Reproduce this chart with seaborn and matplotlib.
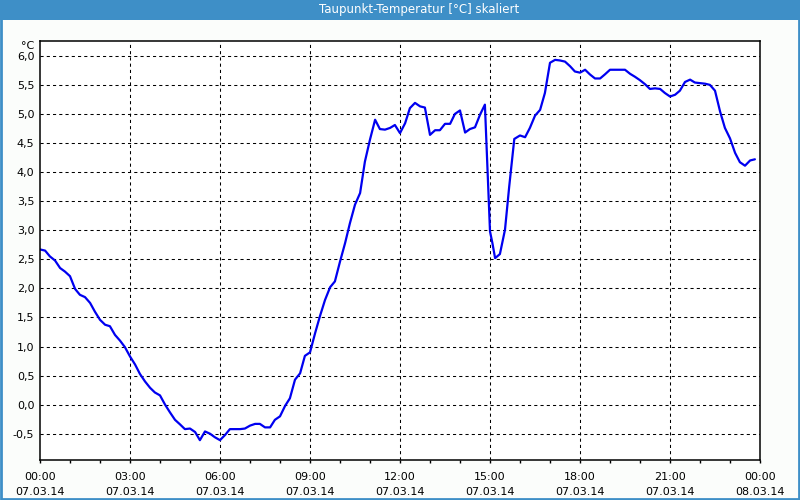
import matplotlib
matplotlib.use("Agg")
import matplotlib.pyplot as plt
from matplotlib.patches import Rectangle
import seaborn as sns
import pandas as pd

hours = [0.0, 0.17, 0.33, 0.5, 0.67, 0.83, 1.0, 1.17, 1.33, 1.5, 1.67, 1.83,
         2.0, 2.17, 2.33, 2.5, 2.67, 2.83, 3.0, 3.17, 3.33, 3.5, 3.67, 3.83,
         4.0, 4.17, 4.33, 4.5, 4.67, 4.83, 5.0, 5.17, 5.33, 5.5, 5.67, 5.83,
         6.0, 6.17, 6.33, 6.67, 6.83, 7.0, 7.17, 7.33, 7.5, 7.67, 7.83,
         8.0, 8.17, 8.33, 8.5, 8.67, 8.83, 9.0, 9.17, 9.33, 9.5, 9.67, 9.83,
         10.0, 10.17, 10.33, 10.5, 10.67, 10.83, 11.0, 11.17, 11.33, 11.5, 11.67, 11.83,
         12.0, 12.17, 12.33, 12.5, 12.67, 12.83, 13.0, 13.17, 13.33, 13.5, 13.67, 13.83,
         14.0, 14.17, 14.33, 14.5, 14.67, 14.83, 15.0, 15.08, 15.17, 15.33, 15.5, 15.64, 15.81,
         16.0, 16.17, 16.33, 16.5, 16.67, 16.83, 17.0, 17.17, 17.33, 17.5, 17.67, 17.83,
         18.0, 18.17, 18.33, 18.5, 18.67, 18.83, 19.0, 19.17, 19.33, 19.5, 19.67, 19.83,
         20.0, 20.17, 20.33, 20.5, 20.67, 20.83, 21.0, 21.17, 21.33, 21.5, 21.67, 21.83,
         22.0, 22.17, 22.33, 22.5, 22.67, 22.83, 23.0, 23.17, 23.33, 23.5, 23.67, 23.83]

dewpoint = [2.67, 2.65, 2.55, 2.48, 2.35, 2.29, 2.21, 1.99, 1.89, 1.85, 1.75, 1.60,
            1.46, 1.375, 1.35, 1.20, 1.10, 0.99, 0.83, 0.69, 0.53, 0.40, 0.29, 0.21,
            0.16, 0.0, -0.13, -0.26, -0.34, -0.42, -0.41, -0.47, -0.61, -0.46, -0.50, -0.56,
            -0.61, -0.52, -0.42, -0.42, -0.41, -0.36, -0.33, -0.33, -0.39, -0.39, -0.26,
            -0.20, -0.02, 0.11, 0.43, 0.54, 0.84, 0.90, 1.23, 1.52, 1.80, 2.02, 2.12,
            2.46, 2.78, 3.12, 3.44, 3.64, 4.18, 4.56, 4.90, 4.74, 4.73, 4.76, 4.81,
            4.67, 4.84, 5.10, 5.19, 5.13, 5.11, 4.64, 4.72, 4.72, 4.83, 4.83, 5.00,
            5.06, 4.68, 4.74, 4.77, 4.99, 5.16, 2.98, 2.78, 2.52, 2.59, 3.01, 3.75, 4.57,
            4.63, 4.60, 4.76, 4.97, 5.07, 5.36, 5.88, 5.93, 5.92, 5.90, 5.82, 5.73,
            5.71, 5.76, 5.68, 5.61, 5.61, 5.68, 5.76, 5.76, 5.76, 5.76, 5.69, 5.64,
            5.58, 5.51, 5.43, 5.44, 5.43, 5.36, 5.30, 5.33, 5.40, 5.55, 5.59, 5.54,
            5.53, 5.52, 5.50, 5.40, 5.04, 4.76, 4.58, 4.33, 4.17, 4.11, 4.20, 4.22]

x_ticks = [0, 3, 6, 9, 12, 15, 18, 21, 24]
x_tick_labels = ["00:00\n07.03.14", "03:00\n07.03.14", "06:00\n07.03.14",
                 "09:00\n07.03.14", "12:00\n07.03.14", "15:00\n07.03.14",
                 "18:00\n07.03.14", "21:00\n07.03.14", "00:00\n08.03.14"]
y_ticks = [-0.5, 0.0, 0.5, 1.0, 1.5, 2.0, 2.5, 3.0, 3.5, 4.0, 4.5, 5.0, 5.5, 6.0]
y_tick_labels = ["-0,5", "0,0", "0,5", "1,0", "1,5", "2,0", "2,5", "3,0",
                 "3,5", "4,0", "4,5", "5,0", "5,5", "6,0"]
title = "Taupunkt-Temperatur [°C] skaliert"

sns.set_style("white")
plt.rcParams["font.family"] = ["DejaVu Sans"]

df = pd.DataFrame({"h": hours, "v": dewpoint})

fig = plt.figure(figsize=(8, 5), dpi=100)
fig.patch.set_facecolor("#fbfdfb")
ax = fig.add_axes([0.05, 0.08, 0.90, 0.839])
ax.set_facecolor("white")

sns.lineplot(data=df, x="h", y="v", ax=ax, color="#0000f0", linewidth=1.6)

ax.set_xlim(0, 24)
ax.set_ylim(-0.951, 6.263)
ax.set_xticks(x_ticks)
ax.set_xticklabels(x_tick_labels, fontsize=8, color="black", linespacing=1.6)
ax.set_xticks(range(0, 25), minor=True)
ax.set_yticks(y_ticks)
ax.set_yticklabels(y_tick_labels, fontsize=8, color="black")
ax.tick_params(axis="x", which="both", direction="out", length=2, width=1,
               color="black", pad=7, bottom=True)
ax.tick_params(axis="y", which="both", length=0, pad=4)
ax.set_xlabel("")
ax.set_ylabel("")

for t in y_ticks:
    ax.axhline(t, color="black", linestyle=(0, (3, 3)), linewidth=0.75, zorder=0)
for t in x_ticks[1:-1]:
    ax.axvline(t, color="black", linestyle=(0, (3, 3)), linewidth=0.75, zorder=0)

for s in ax.spines.values():
    s.set_color("black")
    s.set_linewidth(1.1)

ax.text(-0.008, 1.0, "°C", transform=ax.transAxes, ha="right", va="top",
        fontsize=8, color="black")

fig.patches.append(Rectangle((0, 0.96), 1, 0.04, transform=fig.transFigure,
                             facecolor="#3e8fc7", edgecolor="none", zorder=5))
fig.patches.append(Rectangle((0.001, 0.002), 0.998, 0.997, transform=fig.transFigure,
                             facecolor="none", edgecolor="#3e8fc7", linewidth=2, zorder=5))
fig.text(0.524, 0.98, title, ha="center", va="center", color="white",
         fontsize=8.5, zorder=6)

fig.savefig("out.png", dpi=100, facecolor=fig.get_facecolor())
